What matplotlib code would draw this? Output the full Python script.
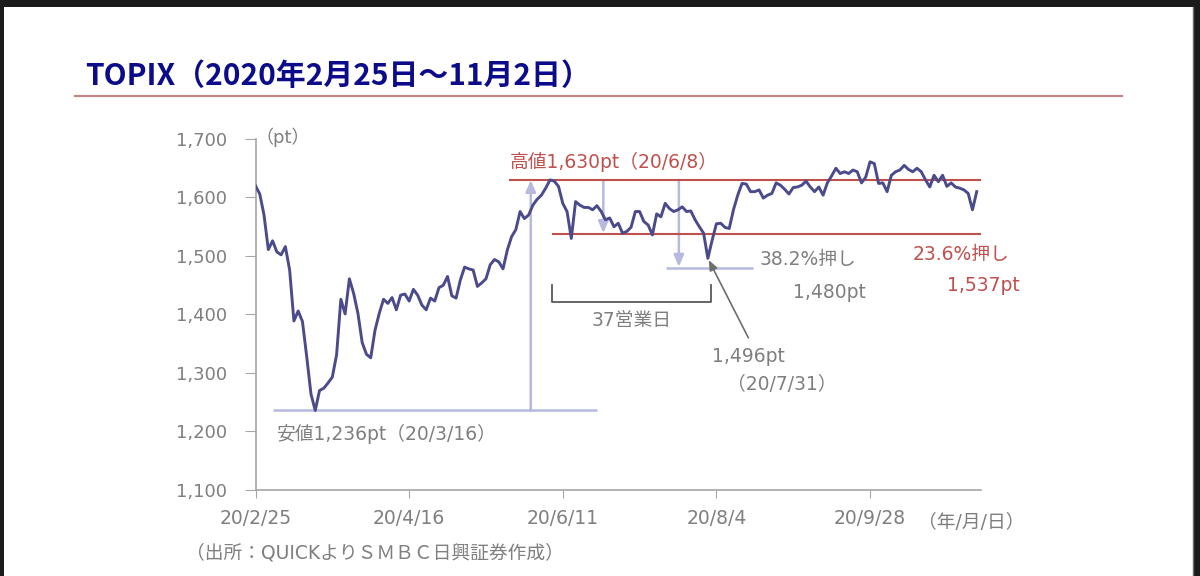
import matplotlib
matplotlib.use('Agg')
import matplotlib.pyplot as plt
from matplotlib.patches import Rectangle
from matplotlib.lines import Line2D
from matplotlib.ticker import FuncFormatter

# Verdana-like latin + CJK fallback (close to Meiryo in the source)
plt.rcParams['font.family'] = ['DejaVu Sans', 'Noto Sans CJK JP']

# TOPIX closes, one per trading day, 2020/2/25 .. 2020/11/2
topix = [
    1620, 1606, 1570, 1511, 1526, 1507, 1502, 1516, 1476, 1389,
    1406, 1388, 1328, 1264, 1236, 1270, 1274, 1283, 1293, 1331,
    1426, 1401, 1461, 1436, 1402, 1352, 1332, 1326, 1373, 1402,
    1426, 1419, 1429, 1408, 1433, 1435, 1423, 1443, 1433, 1416,
    1408, 1428, 1423, 1446, 1450, 1465, 1432, 1428, 1459, 1481,
    1478, 1476, 1448, 1454, 1461, 1485, 1494, 1490, 1478, 1510,
    1533, 1545, 1576, 1564, 1570, 1587, 1597, 1604, 1616, 1630,
    1628, 1619, 1590, 1576, 1530, 1593, 1587, 1583, 1583, 1579,
    1586, 1576, 1562, 1565, 1550, 1556, 1539, 1542, 1549, 1576,
    1576, 1559, 1553, 1536, 1572, 1567, 1590, 1581, 1576, 1579,
    1584, 1576, 1577, 1562, 1550, 1539, 1496, 1527, 1555, 1556,
    1549, 1547, 1579, 1604, 1624, 1623, 1610, 1610, 1613, 1599,
    1604, 1607, 1625, 1621, 1614, 1606, 1617, 1618, 1621, 1628,
    1618, 1610, 1618, 1604, 1625, 1637, 1650, 1641, 1644, 1641,
    1647, 1644, 1625, 1635, 1661, 1658, 1624, 1625, 1610, 1638,
    1644, 1647, 1655, 1648, 1644, 1650, 1644, 1630, 1618, 1638,
    1627, 1638, 1619, 1625, 1618, 1616, 1613, 1607, 1579, 1610,
]
tick_idx = [0, 36, 72, 108, 144]
tick_labels = ['20/2/25', '20/4/16', '20/6/11', '20/8/4', '20/9/28']
y_ticks = [1100, 1200, 1300, 1400, 1500, 1600, 1700]

hi_val, hi_idx = 1630, 69      # 20/6/8
lo_val, lo_idx = 1236, 14      # 20/3/16
dip_val, dip_idx = 1496, 106   # 20/7/31
ret236 = hi_val - 0.236 * (hi_val - lo_val)
ret382 = hi_val - 0.382 * (hi_val - lo_val)

line_col = '#4b4b8c'
red = '#c0504d'
lav = '#b7bade'
grey = '#7f7f7f'
axis_col = '#a6a6a6'
fs = 13.5

fig = plt.figure(figsize=(12, 5.76), dpi=100, facecolor='#1b1b1b')
fig.patches.append(Rectangle((4 / 1200, 0), 1189 / 1200, 569 / 576,
                             transform=fig.transFigure, facecolor='white',
                             edgecolor='none', zorder=-10))
fig.add_artist(Line2D([1193 / 1200] * 2, [0, 569 / 576], color='#6a6a6a',
                      lw=1.0, transform=fig.transFigure))

# title + underline
fig.text(85 / 1200, 1 - 76 / 576, 'TOPIX（2020年2月25日～11月2日）',
         fontsize=21.5, fontweight='bold', color='#0c0c8a', va='center',
         family=['Noto Sans CJK JP'])
fig.add_artist(Line2D([75 / 1200, 1122 / 1200], [1 - 96 / 576] * 2,
                      color='#c08585', lw=1.6, transform=fig.transFigure))

ax = fig.add_axes([255.5 / 1200, 86 / 576, 725.5 / 1200, 351 / 576])
ax.set_facecolor('none')
x = list(range(len(topix)))
ax.plot(x, topix, color=line_col, lw=2.1, zorder=5)

ax.set_xlim(0, 170)
ax.set_ylim(1100, 1700)
ax.set_yticks(y_ticks)
ax.yaxis.set_major_formatter(FuncFormatter(lambda v, p: f'{int(v):,}'))
ax.set_xticks(tick_idx)
ax.set_xticklabels(tick_labels)
for s in ['top', 'right']:
    ax.spines[s].set_visible(False)
for s in ['left', 'bottom']:
    ax.spines[s].set_color(axis_col)
    ax.spines[s].set_linewidth(1.2)
ax.tick_params(axis='y', length=8, color=axis_col, labelcolor=grey,
               labelsize=13, pad=12.5)
ax.tick_params(axis='x', length=6, color=axis_col, labelcolor=grey,
               labelsize=fs, pad=8)

# reference lines
ax.hlines(hi_val, 59.5, 170, color=red, lw=1.5, zorder=4)
ax.hlines(ret236, 69.5, 170, color=red, lw=1.5, zorder=4)
ax.hlines(lo_val, 4, 80, color=lav, lw=1.8, zorder=3)
ax.hlines(ret382, 96.3, 116.6, color=lav, lw=1.8, zorder=3)

arrow = dict(arrowstyle='-|>,head_length=0.7,head_width=0.3', color=lav, lw=1.8,
             shrinkA=0, shrinkB=0)
ax.annotate('', xy=(64.5, hi_val), xytext=(64.5, lo_val), arrowprops=arrow)
ax.annotate('', xy=(81.5, ret236 + 2), xytext=(81.5, hi_val), arrowprops=arrow)
ax.annotate('', xy=(99.2, ret382 + 2), xytext=(99.2, hi_val), arrowprops=arrow)

# 37 business days bracket
ax.plot([69.5, 69.5, 106.8, 106.8], [1450, 1422, 1422, 1450],
        color='#595959', lw=1.3)
ax.text(88.2, 1389, '37営業日', color=grey, fontsize=fs, ha='center', va='center')

# dip pointer
ax.annotate('', xy=(dip_idx + 0.2, dip_val - 3), xytext=(115.5, 1360),
            arrowprops=dict(arrowstyle='-|>,head_length=0.6,head_width=0.25',
                            color='#6e6e6e', lw=1.2, shrinkA=0, shrinkB=0))
ax.text(107, 1329, '1,496pt', color=grey, fontsize=fs, va='center')
ax.text(110.5, 1280, '（20/7/31）', color=grey, fontsize=fs, va='center')

ax.text(59.5, 1661, '高値1,630pt（20/6/8）', color=red, fontsize=fs, va='center')
ax.text(5, 1195, '安値1,236pt（20/3/16）', color=grey, fontsize=fs, va='center')
ax.text(118, 1494, '38.2%押し', color=grey, fontsize=fs, va='center')
ax.text(126, 1437, '1,480pt', color=grey, fontsize=fs, va='center')
ax.text(154, 1502, '23.6%押し', color=red, fontsize=fs, va='center')
ax.text(162, 1450, '1,537pt', color=red, fontsize=fs, va='center')

fig.text(255 / 1200, 1 - 137 / 576, '（pt）', color=grey, fontsize=13, va='center')
fig.text(918 / 1200, 1 - 523 / 576, '（年/月/日）', color=grey, fontsize=fs, va='center')
fig.text(186 / 1200, 1 - 553 / 576, '（出所：QUICKよりＳＭＢＣ日興証券作成）',
         color=grey, fontsize=13.5, va='center')

fig.savefig('out.png', dpi=100, facecolor=fig.get_facecolor())
